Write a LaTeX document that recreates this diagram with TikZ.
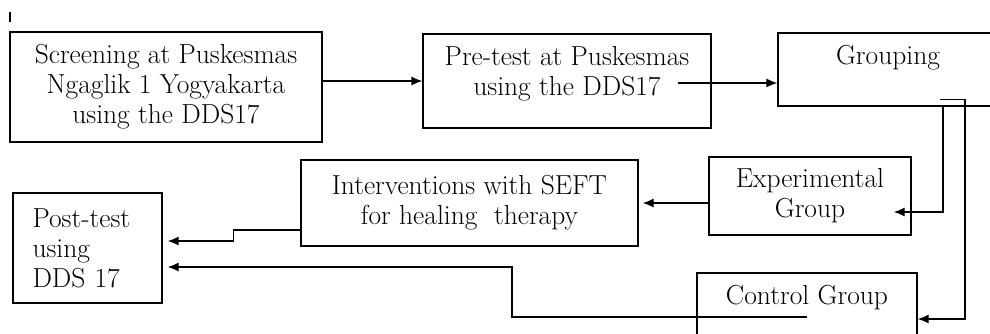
\documentclass[tikz,border=0pt]{standalone}
\usetikzlibrary{arrows.meta,positioning}

\begin{document}
\begin{tikzpicture}[x=1pt,y=-1pt,->,>={Latex[length=11pt,width=9pt]},line width=1.3pt,
  box/.style 2 args={draw,rectangle,minimum width=#1,minimum height=#2,inner sep=0pt},
  txt/.style={font=\fontsize{27.5}{30}\selectfont,align=center,inner sep=0pt}]
  \useasboundingbox (0,0) rectangle (990,333);
  \node[box={312pt}{110pt},txt] (screen) at (166,87) {Screening at Puskesmas\\Ngaglik 1 Yogyakarta\\using the DDS17};
  \node[box={288pt}{94pt}] (pretest) at (567,81) {};
  \node[txt] (pretesttext) at ([yshift=7pt]pretest.center) {Pre-test at Puskesmas\\using the DDS17};
  \node[box={220pt}{73pt}] (grouping) at (888,69.5) {};
  \node[txt] (groupingtext) at ([yshift=11.5pt]grouping.center) {Grouping};
  \node[box={202pt}{78pt},txt] (exper) at (810,196) {Experimental\\Group};
  \node[box={337pt}{86pt},txt] (interv) at (469.5,203) {Interventions with SEFT\\for healing\ \ therapy};
  \node[box={149pt}{110pt},txt,align=left,text width=110pt] (posttest) at (87.5,248) {Post-test\\using\\DDS 17};
  \node[box={220pt}{72pt}] (control) at (807,309) {};
  \node[txt] (controltext) at ([yshift=11pt]control.center) {Control Group};
  \coordinate (pre out) at ([xshift=-34pt,yshift=-2pt]pretest.east);
  % connectors
  \draw (screen.east |- pretest.west) -- (pretest.west);
  \draw (pre out) -- (pre out -| grouping.west);
  \draw ([xshift=55pt]grouping.south) |- ([xshift=-18pt,yshift=-16pt]exper.east);
  \draw ([xshift=52pt,yshift=7pt]grouping.south) -- ++(25,0) |- ([yshift=-10pt]control.east);
  \draw ([yshift=-7pt]exper.west) -- ([xshift=4pt]interv.east);
  \draw ([yshift=-27pt]interv.west) -- ++(-67,0) |- ([xshift=5pt,yshift=7pt]posttest.east);
  \draw ([yshift=-8pt]control.center) -- ++(-295,0) |- ([xshift=5pt,yshift=-19pt]posttest.east);
  \draw[-,line width=1.5pt] (10,12) -- (10,22);
\end{tikzpicture}
\end{document}
